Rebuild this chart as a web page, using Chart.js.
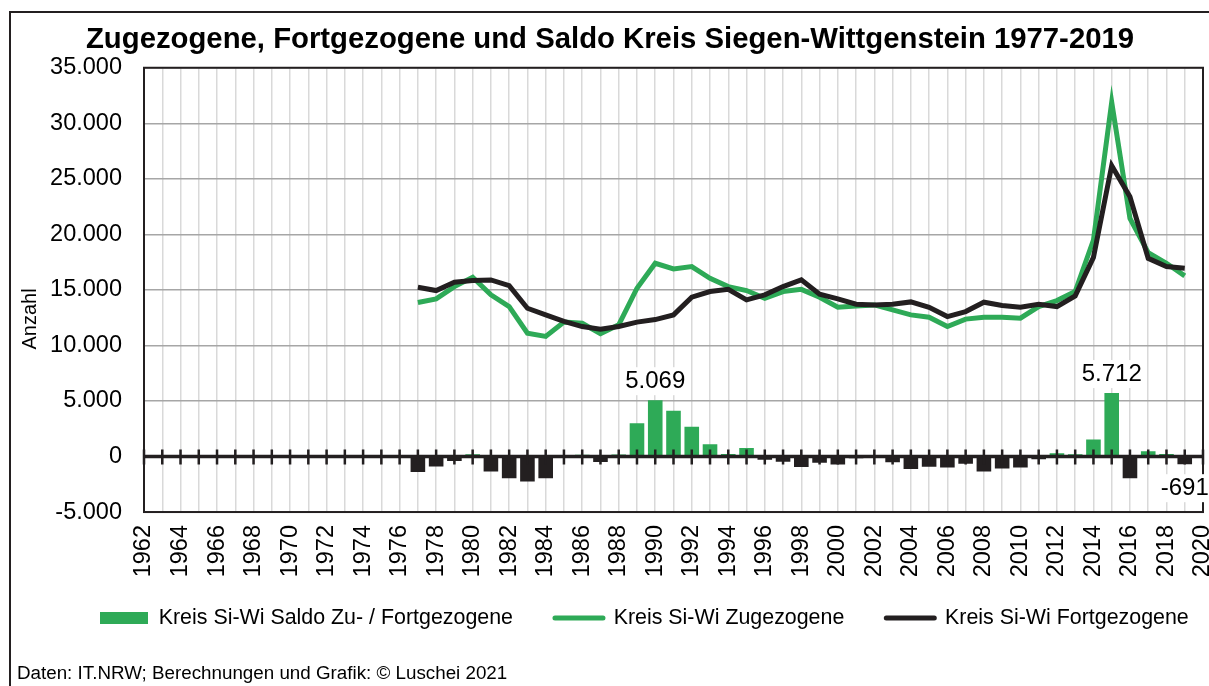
<!DOCTYPE html>
<html lang="de">
<head>
<meta charset="utf-8">
<title>Zugezogene, Fortgezogene und Saldo Kreis Siegen-Wittgenstein</title>
<script src="https://cdn.jsdelivr.net/npm/chart.js@4/dist/chart.umd.min.js"></script>
<style>
  html, body { margin: 0; padding: 0; background: #fff; }
  #wrap { position: relative; width: 1209px; height: 686px; overflow: hidden; }
  #frame { position: absolute; left: 9px; top: 11px; width: 1400px; height: 900px; border: 2.5px solid #231f20; }
  #chart { position: absolute; left: 0; top: 0; }
</style>
</head>
<body>
<div id="wrap">
  <div id="frame"></div>
  <canvas id="chart" width="1209" height="686"></canvas>
</div>
<script>
// x axis categories (one per year, labelled every second year)
const years = [
  1962, 1963, 1964, 1965, 1966, 1967, 1968, 1969, 1970, 1971,
  1972, 1973, 1974, 1975, 1976, 1977, 1978, 1979, 1980, 1981,
  1982, 1983, 1984, 1985, 1986, 1987, 1988, 1989, 1990, 1991,
  1992, 1993, 1994, 1995, 1996, 1997, 1998, 1999, 2000, 2001,
  2002, 2003, 2004, 2005, 2006, 2007, 2008, 2009, 2010, 2011,
  2012, 2013, 2014, 2015, 2016, 2017, 2018, 2019, 2020
];

// data years 1977-2019
const firstDataYear = 1977;

const zugezogene = [
  13860, 14190, 15300, 16140, 14550, 13500, 11110, 10810, 12100, 12000,
  11050, 11860, 15150, 17400, 16890, 17100, 16050, 15300, 14940, 14250,
  14850, 15050, 14340, 13440, 13560, 13650, 13200, 12750, 12540, 11700,
  12370, 12540, 12540, 12450, 13500, 14040, 14850, 19490, 31900, 21440,
  18350, 17400, 16260
];

const fortgezogene = [
  15240, 14940, 15690, 15840, 15900, 15390, 13350, 12750, 12160, 11700,
  11470, 11700, 12100, 12330, 12750, 14340, 14850, 15060, 14100, 14550,
  15300, 15900, 14610, 14190, 13710, 13650, 13710, 13920, 13440, 12600,
  13050, 13890, 13590, 13440, 13710, 13500, 14460, 17930, 26190, 23380,
  17840, 17100, 16950
];

const saldo = [
  -1400, -900, -400, 200, -1350, -1950, -2250, -1950, -60, 150,
  -500, 180, 2990, 5069, 4120, 2680, 1100, 220, 770, -300,
  -480, -950, -560, -720, -150, -30, -520, -1120, -920, -1000,
  -650, -1350, -1080, -1000, -250, 300, 200, 1540, 5712, -1950,
  480, 220, -691
];

// years whose saldo value gets a data label
const labelledYears = [1990, 2015, 2019];

const GREEN = '#2eaa57';
const DARK = '#231f20';
const FONT = "'Liberation Sans', Arial, sans-serif";

// put a 1977-2019 series onto the 1962-2020 category axis
function onAxis(values) {
  return years.map(y => {
    const i = y - firstDataYear;
    return i >= 0 && i < values.length ? values[i] : null;
  });
}

function fmt(v) {
  const s = String(Math.abs(v)).replace(/\B(?=(\d{3})+(?!\d))/g, '.');
  return v < 0 ? '-' + s : s;
}

Chart.defaults.font.family = FONT;
Chart.defaults.color = '#000';

// frame, zero line with year ticks, axis title and value labels
const decorations = {
  id: 'decorations',
  afterLayout(chart) {
    // legend starts further right and a little higher than Chart.js puts it
    const lg = chart.legend;
    lg.left = 58;
    lg.right += 120;
    lg.top -= 12.2;
    lg.bottom -= 12.2;
  },
  afterDatasetsDraw(chart) {
    const { ctx, chartArea: a, scales: { x, y } } = chart;
    const y0 = y.getPixelForValue(0);
    ctx.save();
    ctx.strokeStyle = DARK;
    ctx.lineWidth = 2;
    ctx.strokeRect(a.left, a.top, a.right - a.left, a.bottom - a.top);

    ctx.lineWidth = 3.5;
    ctx.beginPath();
    ctx.moveTo(a.left - 1, y0);
    ctx.lineTo(a.right, y0);
    ctx.stroke();

    ctx.lineWidth = 2.5;
    ctx.beginPath();
    years.forEach((yr, i) => {
      const px = x.getPixelForValue(i);
      ctx.moveTo(px, y0 - 7);
      ctx.lineTo(px, y0 + 8);
    });
    ctx.stroke();

    // y axis title, set a little below the middle as in the original
    ctx.fillStyle = '#000';
    ctx.font = '20px ' + FONT;
    ctx.textAlign = 'center';
    ctx.textBaseline = 'middle';
    ctx.translate(30, (a.top + a.bottom) / 2 + 29);
    ctx.rotate(-Math.PI / 2);
    ctx.fillText('Anzahl', 0, 0);
    ctx.restore();
  },
  afterDraw(chart) {
    const { ctx } = chart;
    const meta = chart.getDatasetMeta(0);
    ctx.save();
    ctx.font = '24px ' + FONT;
    ctx.textAlign = 'center';
    ctx.textBaseline = 'middle';
    labelledYears.forEach(yr => {
      const idx = years.indexOf(yr);
      const bar = meta.data[idx];
      const v = chart.data.datasets[0].data[idx];
      const text = fmt(v);
      const ty = v >= 0 ? bar.y - 19 : bar.y + 24;
      const w = ctx.measureText(text).width;
      ctx.fillStyle = '#fff';
      ctx.fillRect(bar.x - w / 2 - 3, ty - 14, w + 6, 28);
      ctx.fillStyle = '#000';
      ctx.fillText(text, bar.x, ty);
    });
    ctx.restore();
  }
};

new Chart(document.getElementById('chart'), {
  type: 'bar',
  data: {
    labels: years,
    datasets: [
      {
        type: 'bar',
        label: 'Kreis Si-Wi Saldo Zu- / Fortgezogene',
        data: onAxis(saldo),
        backgroundColor: ctx => (ctx.raw !== null && ctx.raw < 0 ? DARK : GREEN),
        barPercentage: 0.8,
        categoryPercentage: 1,
        order: 3
      },
      {
        type: 'line',
        label: 'Kreis Si-Wi Zugezogene',
        data: onAxis(zugezogene),
        borderColor: GREEN,
        borderWidth: 5,
        pointRadius: 0,
        tension: 0,
        order: 2
      },
      {
        type: 'line',
        label: 'Kreis Si-Wi Fortgezogene',
        data: onAxis(fortgezogene),
        borderColor: DARK,
        borderWidth: 5,
        pointRadius: 0,
        tension: 0,
        order: 1
      }
    ]
  },
  options: {
    responsive: false,
    animation: false,
    layout: { padding: { top: 12, left: 17, right: 6, bottom: 0.5 } },
    plugins: {
      title: {
        display: true,
        text: 'Zugezogene, Fortgezogene und Saldo Kreis Siegen-Wittgenstein 1977-2019',
        font: { size: 29.3, weight: 'bold' },
        color: '#000',
        padding: { top: 10, bottom: 10.6 }
      },
      subtitle: {
        display: true,
        position: 'bottom',
        align: 'start',
        text: 'Daten: IT.NRW; Berechnungen und Grafik: © Luschei 2021',
        font: { size: 18.8 },
        color: '#000',
        padding: { top: 12, bottom: 0 }
      },
      legend: {
        position: 'bottom',
        align: 'start',
        labels: {
          usePointStyle: true,
          pointStyleWidth: 48,
          boxHeight: 12,
          padding: 42,
          color: '#000',
          font: { size: 21.4 },
          generateLabels: chart => chart.data.datasets.map((ds, i) => ({
            text: ds.label,
            fillStyle: ds.type === 'line' ? ds.borderColor : GREEN,
            strokeStyle: ds.type === 'line' ? ds.borderColor : GREEN,
            lineWidth: ds.type === 'line' ? 5 : 0,
            lineCap: 'round',
            pointStyle: ds.type === 'line' ? 'line' : 'rect',
            hidden: false,
            datasetIndex: i
          }))
        }
      },
      tooltip: { enabled: false }
    },
    scales: {
      x: {
        type: 'category',
        offset: false,
        grid: { color: '#d9d9d9', lineWidth: 1.5, drawTicks: false, offset: false },
        border: { display: false },
        ticks: {
          autoSkip: false,
          maxRotation: 90,
          minRotation: 90,
          padding: 13,
          font: { size: 23.5 },
          callback: (v, i) => (years[i] % 2 === 0 ? String(years[i]) : '')
        },
        afterFit: s => {
          s.height = 65.5;
          s.paddingLeft = 0;
          s.paddingRight = 0;
        }
      },
      y: {
        min: -5000,
        max: 35000,
        grid: {
          color: c => (c.tick && c.tick.value === 0 ? 'rgba(0,0,0,0)' : '#a6a6a6'),
          lineWidth: 1.5,
          drawTicks: false
        },
        border: { display: false },
        ticks: { stepSize: 5000, padding: 22, font: { size: 23.5 }, callback: v => fmt(v) },
        afterFit: s => { s.width = 127; }
      }
    }
  },
  plugins: [decorations]
});
</script>
</body>
</html>
